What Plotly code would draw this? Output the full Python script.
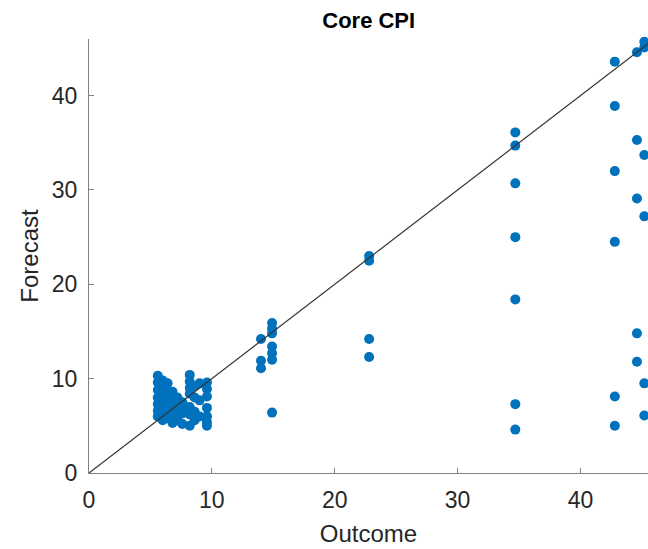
import plotly.graph_objects as go

# Outcome (x) and Forecast (y) values
cluster_x = ([5.6]*7 + [6.0]*7 + [6.4]*6 + [6.8]*6 + [7.2]*5 + [7.6]*4 +
             [8.2]*7 + [8.6]*4 + [9.0]*3 + [9.6]*7)
cluster_y = [10.3, 9.6, 8.8, 8.0, 7.3, 6.6, 6.0,
             9.8, 9.0, 8.3, 7.6, 6.9, 6.2, 5.6,
             9.5, 8.7, 7.8, 7.0, 6.4, 5.8,
             8.6, 7.9, 7.2, 6.5, 5.9, 5.3,
             8.0, 7.4, 6.8, 6.2, 5.6,
             7.5, 6.9, 6.3, 5.2,
             10.4, 9.7, 9.0, 8.4, 7.0, 6.2, 5.0,
             9.2, 8.0, 6.5, 5.6,
             9.5, 7.7, 6.0,
             9.6, 8.9, 8.1, 6.9, 6.0, 5.4, 5.0]

other_x = ([14.0]*3 + [14.9]*7 + [22.8]*4 + [34.7]*7 + [42.8]*6 +
           [44.6]*5 + [45.2]*6)
other_y = [14.2, 11.9, 11.1,
           15.9, 15.3, 14.8, 13.4, 12.7, 12.0, 6.4,
           23.0, 22.5, 14.2, 12.3,
           36.1, 34.7, 30.7, 25.0, 18.4, 7.3, 4.6,
           43.6, 38.9, 32.0, 24.5, 8.1, 5.0,
           44.6, 35.3, 29.1, 14.8, 11.8,
           45.7, 45.1, 33.7, 27.2, 9.5, 6.1]

outcome = cluster_x + other_x
forecast = cluster_y + other_y

line_x = [0, 46]
line_y = [0, 46]

x_ticks = [0, 10, 20, 30, 40]
y_ticks = [0, 10, 20, 30, 40]

FONT = "Liberation Sans, Arial"

fig = go.Figure()
fig.add_trace(go.Scatter(
    x=outcome, y=forecast, mode="markers",
    marker=dict(color="#0072BD", size=10, line=dict(width=0)),
    showlegend=False, cliponaxis=False))
fig.add_trace(go.Scatter(
    x=line_x, y=line_y, mode="lines",
    line=dict(color="#333333", width=1.2), showlegend=False))

axis_common = dict(
    showgrid=False, zeroline=False, showline=True,
    linecolor="#808080", linewidth=1.2,
    ticks="inside", ticklen=5, tickcolor="#808080", tickwidth=1,
    tickfont=dict(family=FONT, size=23, color="#262626"),
)

fig.update_layout(
    width=648, height=549,
    margin=dict(l=89, r=0, t=39, b=76),
    paper_bgcolor="white", plot_bgcolor="white",
    title=dict(text="<b>Core CPI</b>", x=0.569, xanchor="center",
               y=0.963, yanchor="middle",
               font=dict(family=FONT, size=22, color="#000000")),
    xaxis=dict(range=[0, 45.5], tickvals=x_ticks, ticklabelstandoff=6,
               title=dict(text="Outcome", standoff=13,
                          font=dict(family=FONT, size=24, color="#262626")),
               **axis_common),
    yaxis=dict(range=[0, 46], tickvals=y_ticks, ticklabelstandoff=6,
               title=dict(text="Forecast", standoff=6,
                          font=dict(family=FONT, size=24, color="#262626")),
               **axis_common),
)

fig.write_html("out.html")
